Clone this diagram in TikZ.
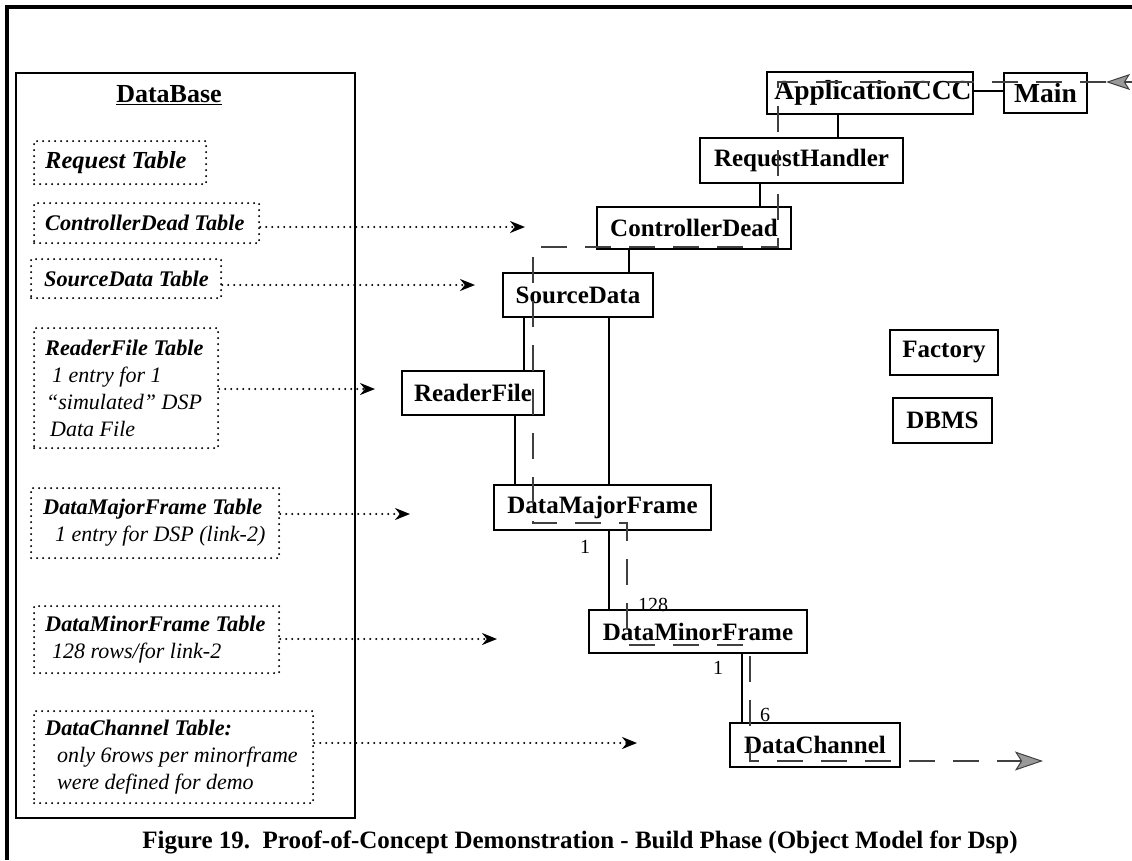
\documentclass[tikz,border=0pt]{standalone}
\usepackage{fontspec}
\setmainfont{Liberation Serif}
\usetikzlibrary{arrows.meta}

\newcommand{\tabttl}[1]{{\fontsize{22.3}{27}\selectfont\bfseries\itshape #1}}

\tikzset{
  cls/.style={draw, line width=1.8pt, inner sep=0pt,
    font=\fontsize{25}{30}\selectfont\bfseries},
  bigcls/.style={cls, font=\fontsize{27.5}{32}\selectfont\bfseries},
  tblbox/.style={draw, line width=2.2pt, dash pattern=on 0pt off 6pt,
    line cap=round, anchor=north west, inner sep=0pt},
  tbltext/.style={anchor=west, inner sep=0pt, align=left,
    font=\fontsize{22}{27}\selectfont\itshape},
  conn/.style={line width=1.8pt},
  dotarrow/.style={line width=2.2pt, dash pattern=on 0pt off 6pt, line cap=round,
    -{Stealth[length=15pt, width=12pt]}},
  thread/.style={line width=2pt, draw=black!75, dash pattern=on 26pt off 18pt},
  lbl/.style={inner sep=0pt, font=\fontsize{20}{24}\selectfont}
}

\begin{document}
\begin{tikzpicture}[x=1pt, y=-1pt]
  \useasboundingbox (0,0) rectangle (1132,860);

  % page frame
  \draw[line width=3.5pt] (7,860) -- (7,7) -- (1132,7);

  % database panel
  \node[draw, line width=2.5pt, minimum width=339pt, minimum height=745pt, inner sep=0pt]
    (db) at (185.5,445.5) {};
  \node[inner sep=0pt, font=\fontsize{26}{30}\selectfont\bfseries] (dbt) at (169,95) {\underline{DataBase}};

  % tables
  \node[tblbox, minimum width=172pt, minimum height=43pt] (treq) at (33,140) {};
  \node[tbltext] (treqx) at ([xshift=12pt]treq.west)
    {{\fontsize{24.5}{27}\selectfont\bfseries\itshape Request Table}};

  \node[tblbox, minimum width=225pt, minimum height=40pt] (tcd) at (33,202) {};
  \node[tbltext] (tcdx) at ([xshift=12pt]tcd.west) {\tabttl{ControllerDead Table}};

  \node[tblbox, minimum width=190pt, minimum height=39pt] (tsd) at (30,258) {};
  \node[tbltext] (tsdx) at ([xshift=14pt]tsd.west) {\tabttl{SourceData Table}};

  \node[tblbox, minimum width=184pt, minimum height=120pt] (trf) at (33,327) {};
  \node[tbltext] (trfx) at ([xshift=12pt]trf.west)
    {\tabttl{ReaderFile Table}\\\hspace*{7pt}1 entry for 1\\\hspace*{1pt}“simulated” DSP\\\hspace*{5pt}Data File};

  \node[tblbox, minimum width=248pt, minimum height=70pt] (tmaj) at (30,487) {};
  \node[tbltext] (tmajx) at ([xshift=13pt]tmaj.west)
    {\tabttl{DataMajorFrame Table}\\\hspace*{12pt}1 entry for DSP (link-2)};

  \node[tblbox, minimum width=245pt, minimum height=67pt] (tmin) at (33,605) {};
  \node[tbltext] (tminx) at ([xshift=12pt]tmin.west)
    {\tabttl{DataMinorFrame Table}\\\hspace*{7pt}128 rows/for link-2};

  \node[tblbox, minimum width=279pt, minimum height=92pt] (tch) at (33,710) {};
  \node[tbltext] (tchx) at ([xshift=12pt]tch.west)
    {\tabttl{DataChannel Table:}\\\hspace*{12pt}only 6rows per minorframe\\\hspace*{12pt}were defined for demo};

  % classes
  \node[bigcls, minimum width=206pt, minimum height=42pt] (app) at (870,93) {\hspace*{6pt}ApplicationCCC};
  \node[bigcls, minimum width=83pt, minimum height=40pt] (main) at (1045.5,93) {Main};
  \node[cls, minimum width=203pt, minimum height=45pt] (rh) at (801.5,160.5) {RequestHandler};
  \node[cls, minimum width=194pt, minimum height=42pt] (cd) at (694,228) {ControllerDead};
  \node[cls, minimum width=150pt, minimum height=44pt] (sd) at (578,295) {SourceData};
  \node[cls, minimum width=142pt, minimum height=44pt] (rf) at (473,393) {ReaderFile};
  \node[cls, minimum width=217pt, minimum height=45pt] (dmaj) at (602.5,507.5) {DataMajorFrame};
  \node[cls, minimum width=218pt, minimum height=43pt] (dmin) at (698,631.5) {DataMinorFrame};
  \node[cls, minimum width=170pt, minimum height=44pt] (dch) at (815,745) {DataChannel};
  \node[cls, minimum width=108pt, minimum height=45pt] (fac) at (944,352.5) {Factory};
  \node[cls, minimum width=99pt, minimum height=45pt] (dbms) at (942.5,420.5) {DBMS};

  % association lines
  \coordinate (ca) at (838,0);
  \coordinate (cb) at (760,0);
  \coordinate (cc) at (629,0);
  \coordinate (cx) at (524,0);
  \coordinate (ce) at (609,0);
  \coordinate (cf) at (515,0);
  \coordinate (cg) at (742,0);
  \coordinate (ch) at (0,91);
  \draw[conn] (app.east |- ch) -- (main.west |- ch);
  \draw[conn] (app.south -| ca) -- (rh.north -| ca);
  \draw[conn] (rh.south -| cb) -- (cd.north -| cb);
  \draw[conn] (cd.south -| cc) -- (sd.north -| cc);
  \draw[conn] (sd.south -| cx) -- (rf.north -| cx);
  \draw[conn] (sd.south -| ce) -- (dmaj.north -| ce);
  \draw[conn] (rf.south -| cf) -- (dmaj.north -| cf);
  \draw[conn] (dmaj.south -| ce) -- (dmin.north -| ce);
  \draw[conn] (dmin.south -| cg) -- (dch.north -| cg);

  % multiplicities
  \node[lbl] (m1) at (585,547) {1};
  \node[lbl] (m128) at (653,605) {128};
  \node[lbl] (n1) at (718,668) {1};
  \node[lbl] (n6) at (765,715) {6};

  % table-to-class mappings
  \coordinate (acd) at (525,227);
  \coordinate (asd) at (475,285);
  \coordinate (arf) at (375,389);
  \coordinate (amaj) at (410,514);
  \coordinate (amin) at (497,639);
  \coordinate (ach) at (637,743);
  \draw[dotarrow] (tcd.east |- acd) -- (acd);
  \draw[dotarrow] (tsd.east |- asd) -- (asd);
  \draw[dotarrow] (trf.east |- arf) -- (arf);
  \draw[dotarrow] (tmaj.east |- amaj) -- (amaj);
  \draw[dotarrow] (tmin.east |- amin) -- (amin);
  \draw[dotarrow] (tch.east |- ach) -- (ach);

  % control thread
  \coordinate (tin) at (1132,82);
  \coordinate (t0) at (1106,82);
  \coordinate (t1) at (778,82);
  \coordinate (t2) at (778,247);
  \coordinate (t3) at (533,247);
  \coordinate (t4) at (533,523);
  \coordinate (t5) at (627,523);
  \coordinate (t6) at (627,645);
  \coordinate (t7) at (750,645);
  \coordinate (t8) at (750,761);
  \coordinate (tout) at (1043,761);
  \draw[line width=2pt, draw=black!75,
    -{Stealth[length=24pt, width=16pt, inset=5pt, line width=1pt, fill=black!40]}] (tin) -- (t0);
  \draw[thread, -{Stealth[length=28pt, width=19pt, inset=6pt, line width=1pt, fill=black!40]}]
    (t0) -- (t1) -- (t2) -- (t3) -- (t4) -- (t5) -- (t6) -- (t7) -- (t8) -- (tout);

  % caption
  \node[inner sep=0pt, font=\fontsize{25}{30}\selectfont\bfseries] (cap) at (580,842)
    {Figure 19.\ \ Proof-of-Concept Demonstration - Build Phase (Object Model for Dsp)};
\end{tikzpicture}
\end{document}
